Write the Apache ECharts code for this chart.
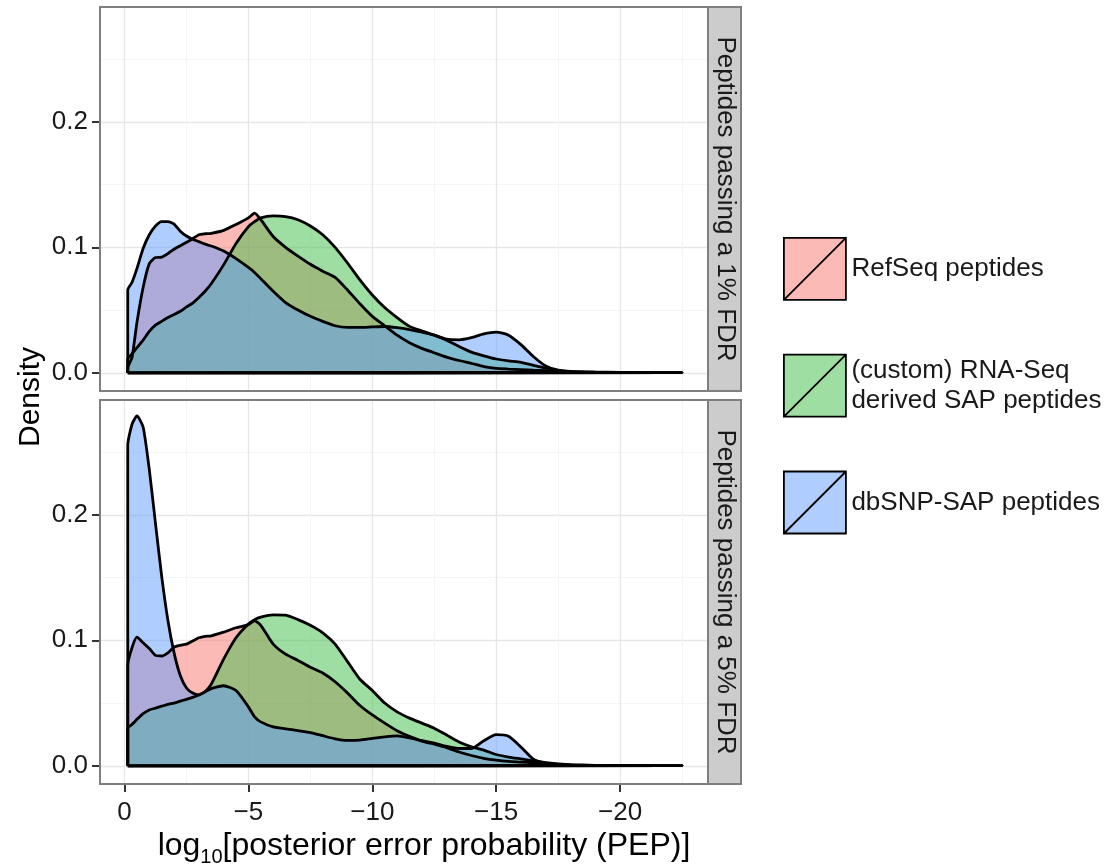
<!DOCTYPE html>
<html>
<head>
<meta charset="utf-8">
<script src="https://cdn.jsdelivr.net/npm/echarts@6.0.0/dist/echarts.min.js"></script>
<style>
  html, body { margin: 0; padding: 0; background: #fff; }
  #chart { width: 1116px; height: 867px; }
</style>
</head>
<body>
<div id="chart"></div>
<script>
const pep = [-0.13, -0.3, -0.5, -0.75, -1, -1.25, -1.5, -1.75, -2, -2.25, -2.5, -2.75, -3, -3.25, -3.5,
  -4, -4.5, -5, -5.25, -5.5, -6, -6.5, -7, -7.5, -8, -8.5, -9, -9.5, -10, -10.5, -11, -11.5, -12,
  -12.5, -13, -13.5, -14, -14.5, -15, -15.5, -16, -16.5, -17, -17.5, -18, -19, -20, -21, -22.5];

// 1% FDR panel
const refseq1 = [0.004, 0.012, 0.040, 0.068, 0.087, 0.0918, 0.0922, 0.095, 0.0985, 0.1012, 0.104, 0.1068,
  0.110, 0.1108, 0.1112, 0.1135, 0.1182, 0.1235, 0.1272, 0.122, 0.1086, 0.100, 0.093, 0.0865, 0.081,
  0.076, 0.066, 0.055, 0.045, 0.0375, 0.030, 0.024, 0.0195, 0.016, 0.0125, 0.0098, 0.0075, 0.005,
  0.0035, 0.003, 0.0026, 0.0022, 0.0018, 0.0012, 0.0008, 0.0004, 0.0003, 0.0002, 0.0001];
const rnaseq1 = [0.011, 0.015, 0.020, 0.026, 0.033, 0.038, 0.041, 0.044, 0.0465, 0.049, 0.0525, 0.0555,
  0.060, 0.065, 0.071, 0.086, 0.103, 0.1165, 0.1205, 0.1235, 0.125, 0.1245, 0.122, 0.117, 0.110,
  0.100, 0.0875, 0.074, 0.062, 0.052, 0.044, 0.037, 0.0335, 0.030, 0.026, 0.021, 0.0165, 0.0135,
  0.011, 0.0095, 0.0083, 0.006, 0.0038, 0.002, 0.001, 0.0005, 0.0003, 0.0002, 0.0001];
const dbsnp1 = [0.066, 0.072, 0.083, 0.099, 0.110, 0.117, 0.1205, 0.1205, 0.1185, 0.1128, 0.109, 0.1065,
  0.1045, 0.1025, 0.101, 0.097, 0.091, 0.084, 0.080, 0.075, 0.065, 0.056, 0.050, 0.045, 0.041,
  0.0375, 0.0362, 0.0362, 0.0366, 0.0369, 0.036, 0.0345, 0.0325, 0.030, 0.0268, 0.0263, 0.028, 0.031,
  0.0324, 0.030, 0.0225, 0.013, 0.0055, 0.0022, 0.0012, 0.0006, 0.0004, 0.0002, 0.0001];

// 5% FDR panel
const refseq5 = [0.080, 0.094, 0.1025, 0.098, 0.0935, 0.088, 0.0875, 0.090, 0.0945, 0.096, 0.097, 0.0995,
  0.102, 0.1032, 0.1036, 0.1065, 0.110, 0.1125, 0.1155, 0.112, 0.097, 0.089, 0.084, 0.0785, 0.074,
  0.067, 0.058, 0.048, 0.0405, 0.034, 0.028, 0.0235, 0.0197, 0.0172, 0.0145, 0.011, 0.0082, 0.006,
  0.0045, 0.0035, 0.003, 0.0024, 0.0018, 0.0012, 0.0008, 0.0004, 0.0003, 0.0002, 0.0001];
const rnaseq5 = [0.030, 0.033, 0.037, 0.0415, 0.0445, 0.046, 0.0475, 0.049, 0.050, 0.0515, 0.053, 0.0545,
  0.0565, 0.059, 0.065, 0.085, 0.102, 0.113, 0.1165, 0.1185, 0.1203, 0.120, 0.1165, 0.112, 0.106,
  0.097, 0.083, 0.069, 0.060, 0.050, 0.043, 0.038, 0.034, 0.030, 0.0245, 0.019, 0.0152, 0.0125,
  0.009, 0.007, 0.0055, 0.004, 0.0025, 0.0015, 0.0008, 0.0004, 0.0003, 0.0002, 0.0001];
const dbsnp5 = [0.2554, 0.272, 0.2788, 0.270, 0.236, 0.193, 0.151, 0.116, 0.090, 0.072, 0.062, 0.058,
  0.0565, 0.059, 0.0615, 0.0638, 0.060, 0.047, 0.039, 0.035, 0.031, 0.0295, 0.028, 0.0265, 0.024,
  0.0215, 0.0202, 0.0205, 0.0218, 0.023, 0.0238, 0.0222, 0.020, 0.018, 0.0155, 0.0138, 0.0138, 0.020,
  0.0248, 0.0235, 0.015, 0.0053, 0.002, 0.001, 0.0006, 0.0004, 0.0003, 0.0002, 0.0001];

const seriesNames = ['RefSeq peptides', '(custom) RNA-Seq derived SAP peptides', 'dbSNP-SAP peptides'];
const legendLabels = ['RefSeq peptides', '(custom) RNA-Seq\nderived SAP peptides', 'dbSNP-SAP peptides'];
const facetLabels = ['Peptides passing a 1% FDR', 'Peptides passing a 5% FDR'];
const xTicks = [0, -5, -10, -15, -20];
const yTicks = [0, 0.1, 0.2];

const fills = ['rgba(248,118,109,0.5)', 'rgba(64,190,72,0.5)', 'rgba(97,156,255,0.5)'];
const FONT = '"Liberation Sans", Arial, Helvetica, sans-serif';

// close each density like ggplot does: up the left edge, along the curve, back on the baseline
function densityPoints(ys) {
  const pts = [[pep[0], 0]];
  ys.forEach((y, i) => pts.push([pep[i], y]));
  pts.push([pep[pep.length - 1], 0]);
  pts.push([pep[0], 0]);
  return pts;
}

function densitySeries(idx, ys, panel) {
  return {
    type: 'line',
    name: seriesNames[idx],
    xAxisIndex: panel,
    yAxisIndex: panel,
    data: densityPoints(ys),
    showSymbol: false,
    smooth: 0.2,
    color: fills[idx],
    lineStyle: { color: '#000', width: 2.8 },
    areaStyle: { color: fills[idx], opacity: 1 },
    silent: true,
  };
}

function xAxisFor(panel) {
  const bottom = panel === 1;
  return {
    type: 'value', gridIndex: panel,
    min: -23.55, max: 0.99, inverse: true, splitNumber: 5,
    axisLine: { show: false, onZero: false },
    axisTick: { show: bottom, customValues: xTicks, length: 8, lineStyle: { color: '#333', width: 2 } },
    axisLabel: {
      show: bottom, customValues: xTicks, margin: 16,
      fontSize: 26, fontFamily: FONT, color: '#1a1a1a',
      formatter: v => (xTicks.includes(v) ? String(v).replace('-', '\u2212') : ''),
    },
    splitLine: { lineStyle: { color: '#E6E6E6', width: 1.3 } },
    minorTick: { show: false, splitNumber: 2 },
    minorSplitLine: { show: true, lineStyle: { color: '#F5F5F5', width: 1 } },
  };
}

function yAxisFor(panel) {
  return {
    type: 'value', gridIndex: panel,
    min: -0.0145, max: 0.2915, splitNumber: 3,
    axisLine: { show: false, onZero: false },
    axisTick: { show: true, customValues: yTicks, length: 8, lineStyle: { color: '#333', width: 2 } },
    axisLabel: {
      customValues: yTicks, margin: 12,
      fontSize: 26, fontFamily: FONT, color: '#1a1a1a',
      formatter: v => (yTicks.includes(v) ? v.toFixed(1) : ''),
    },
    splitLine: { lineStyle: { color: '#E6E6E6', width: 1.3 } },
    minorTick: { show: false, splitNumber: 2 },
    minorSplitLine: { show: true, lineStyle: { color: '#F5F5F5', width: 1 } },
  };
}

const panels = [{ top: 7 }, { top: 400 }];
const panelH = 384;

const graphics = [];
panels.forEach((p, i) => {
  // panel border
  graphics.push({
    type: 'rect', z: 100, silent: true,
    shape: { x: 100, y: p.top, width: 608, height: panelH },
    style: { fill: 'transparent', stroke: '#7F7F7F', lineWidth: 2 },
  });
  // facet strip
  graphics.push({
    type: 'rect', z: 100, silent: true,
    shape: { x: 708, y: p.top, width: 33, height: panelH },
    style: { fill: '#CCCCCC', stroke: '#7F7F7F', lineWidth: 2 },
  });
  graphics.push({
    type: 'text', z: 101, silent: true,
    x: 725, y: p.top + panelH / 2, rotation: -Math.PI / 2,
    style: { text: facetLabels[i], font: '26px ' + FONT, fill: '#1a1a1a', align: 'center', verticalAlign: 'middle' },
  });
});
graphics.push({
  type: 'text', silent: true,
  x: 31, y: 397, rotation: Math.PI / 2,
  style: { text: 'Density', font: '30px ' + FONT, fill: '#000', align: 'center', verticalAlign: 'middle' },
});
graphics.push({
  type: 'text', silent: true,
  x: 424, y: 846,
  style: {
    text: '{a|log}{s|10}{a|[posterior error probability (PEP)]}',
    align: 'center', verticalAlign: 'middle',
    rich: {
      a: { fontSize: 32, fontFamily: FONT, fill: '#000', lineHeight: 36 },
      // subscript pushed down with top padding
      s: { fontSize: 20, fontFamily: FONT, fill: '#000', lineHeight: 1, verticalAlign: 'top', padding: [19, 0, 0, 0] },
    },
  },
});

const chart = echarts.init(document.getElementById('chart'), null, { renderer: 'canvas' });
chart.setOption({
  animation: false,
  backgroundColor: '#fff',
  grid: panels.map(p => ({
    left: 100, top: p.top, width: 608, height: panelH,
    show: true, backgroundColor: '#fff', borderWidth: 0, outerBoundsMode: 'none',
  })),
  xAxis: [xAxisFor(0), xAxisFor(1)],
  yAxis: [yAxisFor(0), yAxisFor(1)],
  legend: {
    orient: 'vertical', left: 783, top: 237, padding: 0,
    itemWidth: 63, itemHeight: 62, itemGap: 53,
    icon: 'path://M0,0L40,0L40,40L0,40ZM0,40L40,0',
    data: seriesNames,
    selectedMode: false,
    itemStyle: { borderColor: '#000', borderWidth: 1.8 },
    formatter: n => legendLabels[seriesNames.indexOf(n)],
    textStyle: { fontSize: 26, fontFamily: FONT, color: '#1a1a1a', lineHeight: 30 },
  },
  graphic: graphics,
  series: [
    densitySeries(0, refseq1, 0), densitySeries(1, rnaseq1, 0), densitySeries(2, dbsnp1, 0),
    densitySeries(0, refseq5, 1), densitySeries(1, rnaseq5, 1), densitySeries(2, dbsnp5, 1),
  ],
});
</script>
</body>
</html>
